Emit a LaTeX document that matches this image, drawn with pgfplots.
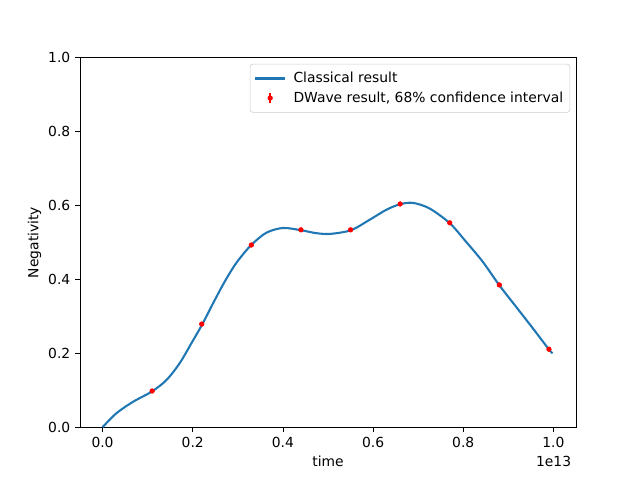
\documentclass[border=0pt]{standalone}
\usepackage{pgfplots}
\pgfplotsset{compat=1.18}
\usepackage{fontspec}
\setmainfont{DejaVu Sans}
\definecolor{mplblue}{HTML}{1F77B4}
\begin{document}
\fontsize{10.4pt}{12pt}\selectfont
\begin{tikzpicture}
\useasboundingbox (0,0) rectangle (480pt,360pt);
\begin{axis}[
  at={(60pt,39.6pt)}, anchor=south west,
  scale only axis, width=372pt, height=277.2pt,
  xmin=-0.05, xmax=1.05, ymin=0, ymax=1,
  xtick={0,0.2,0.4,0.6,0.8,1.0},
  ytick={0,0.2,0.4,0.6,0.8,1.0},
  xticklabel style={/pgf/number format/.cd,fixed,fixed zerofill,precision=1},
  yticklabel style={/pgf/number format/.cd,fixed,fixed zerofill,precision=1},
  /pgf/number format/assume math mode=true,
  tick align=outside, tick pos=left,
  major tick length=3.65pt,
  every tick/.style={black, line width=0.6pt},
  axis line style={line width=0.6pt},
  xlabel={time}, ylabel={Negativity},
  xlabel style={at={(axis description cs:0.5,0)}, anchor=center, yshift=-25.5pt},
  ylabel style={yshift=-2pt},
  legend style={at={(0.988,0.983)}, anchor=north east, draw=black!20, rounded corners=2pt,
    inner xsep=3pt, inner ysep=4pt, row sep=1.2pt,
    font=\fontsize{10.4pt}{12pt}\selectfont},
  legend cell align=left,
  clip=false,
]
\addplot[mplblue, line width=1.56pt, smooth,
  legend image code/.code={\draw[mplblue, line width=1.56pt] (0pt,0pt) -- (22.5pt,0pt); \path (26pt,0pt);}]
  coordinates {
(0,0) (0.031,0.038) (0.068,0.069) (0.110,0.097) (0.142,0.128) (0.171,0.173)
(0.197,0.227) (0.221,0.278) (0.245,0.335) (0.271,0.394) (0.297,0.445)
(0.329,0.492) (0.363,0.526) (0.400,0.539) (0.440,0.533) (0.474,0.525)
(0.505,0.523) (0.551,0.533) (0.592,0.561) (0.629,0.588) (0.659,0.603)
(0.688,0.607) (0.725,0.592) (0.770,0.552) (0.806,0.502) (0.843,0.448)
(0.880,0.384) (0.917,0.326) (0.954,0.268) (0.989,0.212) (0.998,0.200)
};
\addlegendentry{Classical result}
\addplot[red, only marks, mark=*, mark size=1.75pt,
  legend image code/.code={\draw[red, line width=1pt] (11.25pt,-4pt) -- (11.25pt,4pt); \fill[red] (11.25pt,0pt) circle (1.75pt); \path (0pt,0pt) (26pt,0pt);},
  error bars/.cd, y dir=both, y explicit, error bar style={red, line width=1pt}, error mark=none]
  coordinates {
(0.11,0.098) +- (0,0.002)
(0.22,0.279) +- (0,0.002)
(0.33,0.493) +- (0,0.002)
(0.44,0.534) +- (0,0.002)
(0.55,0.534) +- (0,0.002)
(0.66,0.604) +- (0,0.002)
(0.77,0.553) +- (0,0.002)
(0.88,0.385) +- (0,0.002)
(0.99,0.211) +- (0,0.002)
};
\addlegendentry{DWave result, 68\% confidence interval}
\node[anchor=east] at (rel axis cs:1,0) [yshift=-25.5pt] {1e13};
\end{axis}
\end{tikzpicture}
\end{document}
